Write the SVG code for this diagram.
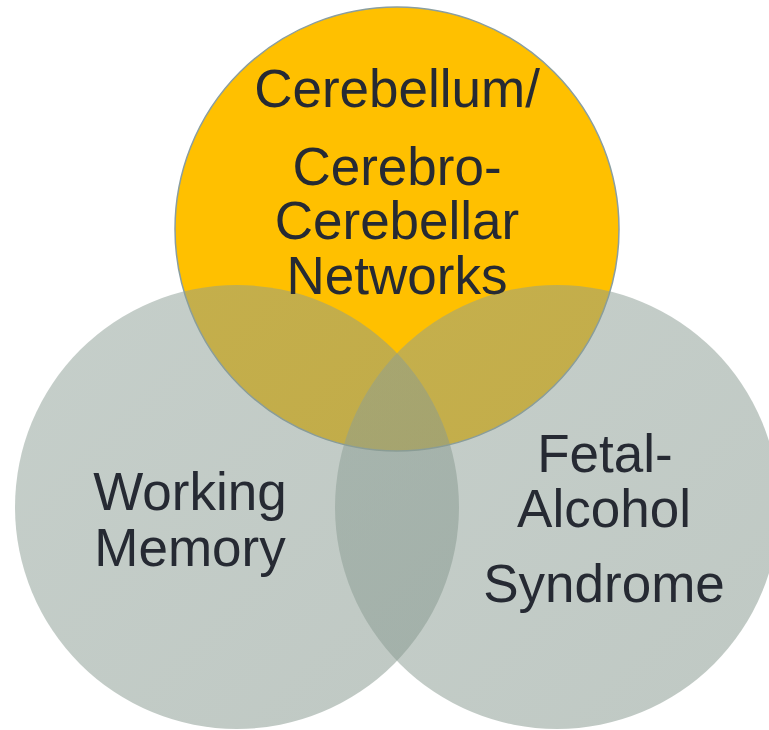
<svg xmlns="http://www.w3.org/2000/svg" width="769" height="730" viewBox="0 0 769 730">
  <defs>
    <linearGradient id="grayFill" x1="0" y1="0" x2="1" y2="1">
      <stop offset="0" stop-color="#8EA097"/>
      <stop offset="1" stop-color="#82948A"/>
    </linearGradient>
    <style>
      .top { fill: #FFC000; stroke: #8A9EA0; stroke-width: 1.5; }
      .gray { fill: url(#grayFill); fill-opacity: 0.51; stroke: none; }
      .lbl { font-family: "Liberation Sans", Arial, sans-serif; font-size: 53px; fill: #262A33; text-anchor: middle; }
    </style>
  </defs>
  <rect width="769" height="730" fill="#FFFFFF"/>
  <g id="connectors"/>
  <g id="node-cerebellum">
    <circle class="top" cx="397" cy="229" r="222"/>
  </g>
  <g id="node-working-memory">
    <circle class="gray" cx="237" cy="507" r="222"/>
  </g>
  <g id="node-fetal-alcohol">
    <circle class="gray" cx="557" cy="507" r="222"/>
  </g>
  <g id="labels">
    <text class="lbl" x="397" y="107">Cerebellum/</text>
    <text class="lbl" x="397" y="185">Cerebro-</text>
    <text class="lbl" x="397" y="239">Cerebellar</text>
    <text class="lbl" x="397" y="294">Networks</text>
    <text class="lbl" x="190" y="510">Working</text>
    <text class="lbl" x="190" y="566">Memory</text>
    <text class="lbl" x="605" y="472">Fetal-</text>
    <text class="lbl" x="604" y="527">Alcohol</text>
    <text class="lbl" x="604" y="602">Syndrome</text>
  </g>
</svg>
